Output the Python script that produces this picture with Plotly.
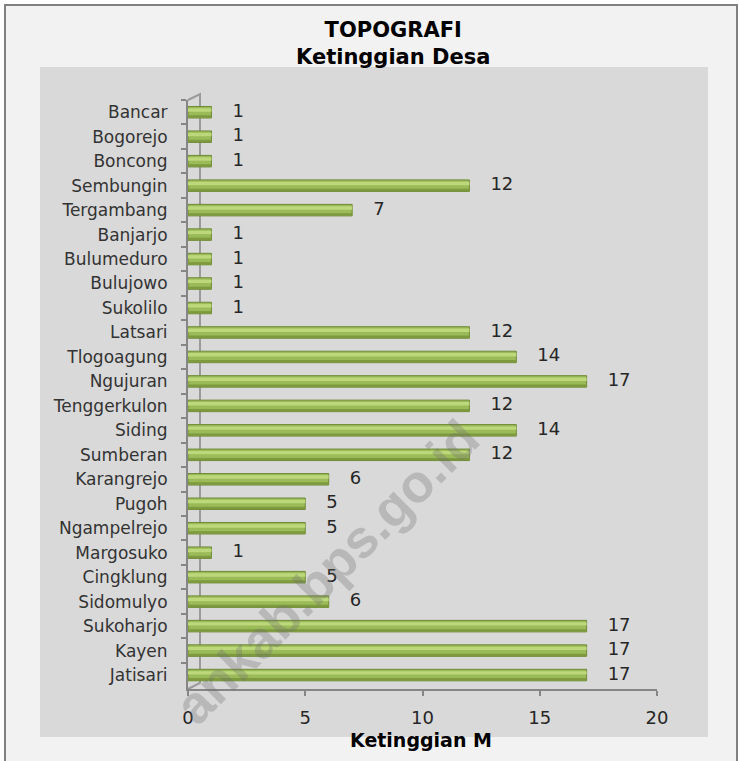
import plotly.graph_objects as go

# ---- data (top-to-bottom as shown) ----
villages = ["Bancar", "Bogorejo", "Boncong", "Sembungin", "Tergambang", "Banjarjo",
            "Bulumeduro", "Bulujowo", "Sukolilo", "Latsari", "Tlogoagung", "Ngujuran",
            "Tenggerkulon", "Siding", "Sumberan", "Karangrejo", "Pugoh", "Ngampelrejo",
            "Margosuko", "Cingklung", "Sidomulyo", "Sukoharjo", "Kayen", "Jatisari"]
heights = [1, 1, 1, 12, 7, 1, 1, 1, 1, 12, 14, 17, 12, 14, 12, 6, 5, 5, 1, 5, 6, 17, 17, 17]
x_ticks = [0, 5, 10, 15, 20]

title_text = "<b>TOPOGRAFI<br>Ketinggian Desa</b>"
x_title = "<b>Ketinggian M</b>"
watermark = "ankab.bps.go.id"

W, H = 740, 761
L, R, T, B = 188, 83, 100, 72
PW, PH = W - L - R, H - T - B


def px(x):
    return (x - L) / PW


def py(y):
    return (H - B - y) / PH


FONT = "DejaVu Sans"

fig = go.Figure()

# main cylinder body
fig.add_trace(go.Bar(
    x=heights, y=villages, orientation="h",
    width=0.47, offset=-0.235,
    marker=dict(color="#9bbb59", line=dict(color="#6f8a35", width=1)),
    hoverinfo="x+y", showlegend=False,
))
# highlight (upper part)
fig.add_trace(go.Bar(
    x=heights, y=villages, orientation="h",
    width=0.14, offset=-0.16,
    marker=dict(color="#bcd87a", line=dict(width=0)),
    hoverinfo="skip", showlegend=False,
))
# shadow (lower part)
fig.add_trace(go.Bar(
    x=heights, y=villages, orientation="h",
    width=0.1, offset=0.125,
    marker=dict(color="#7d9a3e", line=dict(width=0)),
    hoverinfo="skip", showlegend=False,
))
# data labels
fig.add_trace(go.Scatter(
    x=heights, y=villages, mode="markers+text",
    text=[str(v) for v in heights], textposition="middle right",
    marker=dict(size=32, opacity=0),
    textfont=dict(family=FONT, size=18, color="#262626"),
    hoverinfo="skip", showlegend=False, cliponaxis=False,
))

shapes = [
    # outer chart area with border
    dict(type="rect", xref="paper", yref="paper", layer="below",
         x0=px(5), x1=px(737), y0=py(775), y1=py(5),
         fillcolor="#f2f2f2", line=dict(color="#808080", width=2)),
    # grey plot area
    dict(type="rect", xref="paper", yref="paper", layer="below",
         x0=px(40), x1=px(708), y0=py(737), y1=py(67),
         fillcolor="#d9d9d9", line=dict(width=0)),
    # 3D back wall line
    dict(type="path", xref="paper", yref="paper", layer="below",
         path=f"M {px(188)} {py(689)} L {px(200)} {py(683)} L {px(200)} {py(94)} L {px(188)} {py(100)}",
         line=dict(color="#9a9a9a", width=2)),
]

annotations = [
    dict(text=title_text, xref="paper", yref="paper", x=px(393), y=py(44),
         xanchor="center", yanchor="middle", showarrow=False,
         font=dict(family=FONT, size=21, color="#000000")),
    dict(text=x_title, xref="paper", yref="paper", x=px(421), y=py(740),
         xanchor="center", yanchor="middle", showarrow=False,
         font=dict(family=FONT, size=19, color="#000000")),
    dict(text=f"<b>{watermark}</b>", xref="paper", yref="paper", x=px(326), y=py(572),
         xanchor="center", yanchor="middle", showarrow=False, textangle=-45,
         font=dict(family="Liberation Sans", size=53, color="rgba(110,110,110,0.30)")),
]

fig.update_layout(
    width=W, height=H,
    margin=dict(l=L, r=R, t=T, b=B, pad=0),
    paper_bgcolor="#ffffff",
    plot_bgcolor="rgba(0,0,0,0)",
    barmode="overlay",
    shapes=shapes,
    annotations=annotations,
    xaxis=dict(
        range=[0, 20], tickvals=x_ticks, ticktext=[str(t) for t in x_ticks],
        showgrid=False, zeroline=False,
        showline=True, linecolor="#868686", linewidth=2,
        ticks="outside", ticklen=5, tickcolor="#868686", tickwidth=2,
        tickfont=dict(family=FONT, size=18, color="#262626"),
        ticklabelstandoff=6,
    ),
    yaxis=dict(
        type="category", categoryorder="array", categoryarray=villages,
        range=[23.57, -0.5],
        showgrid=False, zeroline=False,
        showline=True, linecolor="#868686", linewidth=2,
        ticks="outside", ticklen=5, tickcolor="#868686", tickwidth=2,
        tickson="boundaries",
        tickfont=dict(family=FONT, size=17, color="#333333"),
        ticklabelstandoff=15,
    ),
)

fig.write_html("out.html", config={"displayModeBar": False},
               post_script="document.body.style.margin='0';")
